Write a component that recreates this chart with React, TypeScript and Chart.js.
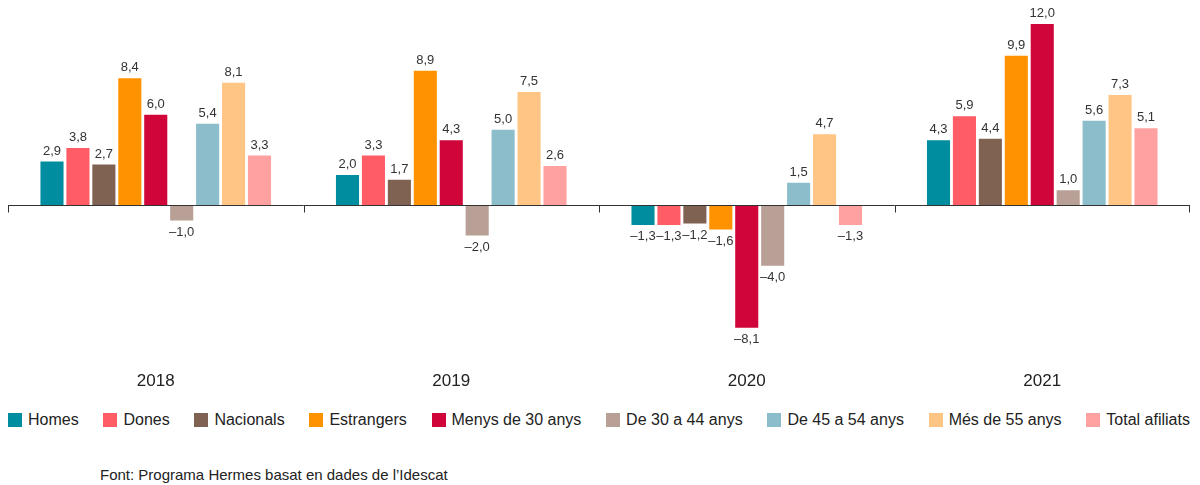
import React, { useRef, useEffect } from 'react';
import { Chart, registerables, Plugin } from 'chart.js';

Chart.register(...registerables);

const years = ['2018', '2019', '2020', '2021'];

const seriesNames = [
  'Homes',
  'Dones',
  'Nacionals',
  'Estrangers',
  'Menys de 30 anys',
  'De 30 a 44 anys',
  'De 45 a 54 anys',
  'Més de 55 anys',
  'Total afiliats',
];

const homes = [2.9, 2.0, -1.3, 4.3];
const dones = [3.8, 3.3, -1.3, 5.9];
const nacionals = [2.7, 1.7, -1.2, 4.4];
const estrangers = [8.4, 8.9, -1.6, 9.9];
const menys30 = [6.0, 4.3, -8.1, 12.0];
const de30a44 = [-1.0, -2.0, -4.0, 1.0];
const de45a54 = [5.4, 5.0, 1.5, 5.6];
const mes55 = [8.1, 7.5, 4.7, 7.3];
const totalAfiliats = [3.3, 2.6, -1.3, 5.1];

const seriesValues = [homes, dones, nacionals, estrangers, menys30, de30a44, de45a54, mes55, totalAfiliats];

const colors = [
  '#008d9f', // Homes
  '#ff5c66', // Dones
  '#7f6252', // Nacionals
  '#ff9200', // Estrangers
  '#d0053a', // Menys de 30
  '#b8a096', // 30-44
  '#8bbdcb', // 45-54
  '#ffc585', // 55+
  '#ffa1a0', // Total
];

const FONT = "'Liberation Sans', Arial, Helvetica, sans-serif";

const formatValue = (v: number) => {
  const s = Math.abs(v).toFixed(1).replace('.', ',');
  return v < 0 ? '\u2013' + s : s;
};

// zero line with small ticks at the category boundaries
const zeroAxisPlugin: Plugin<'bar'> = {
  id: 'zeroAxis',
  afterDatasetsDraw(chart) {
    const { ctx, chartArea, scales } = chart;
    const x = scales.x;
    const y = scales.y;
    const y0 = Math.round(y.getPixelForValue(0)) + 0.5;
    const n = years.length;
    const catW = (x.right - x.left) / n;
    ctx.save();
    ctx.strokeStyle = '#333';
    ctx.lineWidth = 1;
    ctx.beginPath();
    ctx.moveTo(chartArea.left, y0);
    ctx.lineTo(chartArea.right, y0);
    for (let k = 0; k <= n; k++) {
      const px = Math.round(x.left + k * catW) + (k === n ? -0.5 : 0.5);
      ctx.moveTo(px, y0);
      ctx.lineTo(px, y0 + 7);
    }
    ctx.stroke();
    ctx.restore();
  },
};

// value labels above / below each bar
const valueLabelPlugin: Plugin<'bar'> = {
  id: 'valueLabels',
  afterDatasetsDraw(chart) {
    const { ctx } = chart;
    ctx.save();
    ctx.font = `13px ${FONT}`;
    ctx.fillStyle = '#333';
    ctx.textAlign = 'center';
    chart.data.datasets.forEach((ds, di) => {
      const meta = chart.getDatasetMeta(di);
      meta.data.forEach((bar: any, i) => {
        const v = ds.data[i] as number;
        if (v >= 0) {
          ctx.textBaseline = 'bottom';
          ctx.fillText(formatValue(v), bar.x, bar.y - 4);
        } else {
          ctx.textBaseline = 'top';
          ctx.fillText(formatValue(v), bar.x, bar.y + 5);
        }
      });
    });
    ctx.restore();
  },
};

const App: React.FC = () => {
  const chartRef = useRef<HTMLCanvasElement>(null);
  const chartInstance = useRef<Chart | null>(null);

  useEffect(() => {
    if (!chartRef.current) return;
    if (chartInstance.current) {
      chartInstance.current.destroy();
    }
    const ctx = chartRef.current.getContext('2d');
    if (!ctx) return;

    chartInstance.current = new Chart(ctx, {
      type: 'bar',
      data: {
        labels: years,
        datasets: seriesNames.map((name, i) => ({
          label: name,
          data: seriesValues[i],
          backgroundColor: colors[i],
          borderWidth: 0,
          categoryPercentage: 0.79,
          barPercentage: 0.89,
        })),
      },
      options: {
        responsive: true,
        maintainAspectRatio: false,
        animation: false,
        layout: { padding: { top: 0, right: 2, left: 0, bottom: 0 } },
        scales: {
          x: {
            grid: { display: false },
            border: { display: false },
            ticks: {
              color: '#222',
              padding: 7,
              font: { family: FONT, size: 17 },
            },
          },
          y: {
            display: false,
            min: -10.0,
            max: 13.58,
          },
        },
        plugins: {
          legend: { display: false },
          tooltip: { enabled: false },
        },
      },
      plugins: [zeroAxisPlugin, valueLabelPlugin],
    });

    return () => {
      if (chartInstance.current) {
        chartInstance.current.destroy();
        chartInstance.current = null;
      }
    };
  }, []);

  return (
    <div style={{ width: 1184, marginTop: -8, fontFamily: FONT, color: '#222' }}>
      <div style={{ height: 399, position: 'relative' }}>
        <canvas ref={chartRef} />
      </div>
      <div
        style={{
          width: 1182,
          marginTop: 11,
          display: 'flex',
          justifyContent: 'space-between',
          alignItems: 'center',
          fontSize: 16,
          lineHeight: '20px',
        }}
      >
        {seriesNames.map((name, i) => (
          <div key={name} style={{ display: 'flex', alignItems: 'center' }}>
            <span
              style={{
                display: 'inline-block',
                width: 14,
                height: 14,
                marginRight: 6,
                background: colors[i],
              }}
            />
            <span>{name}</span>
          </div>
        ))}
      </div>
      <div
        style={{
          marginTop: 36,
          paddingLeft: 92,
          fontSize: 15,
          lineHeight: '18px',
        }}
      >
        Font: Programa Hermes basat en dades de l’Idescat
      </div>
    </div>
  );
};

export default App;
